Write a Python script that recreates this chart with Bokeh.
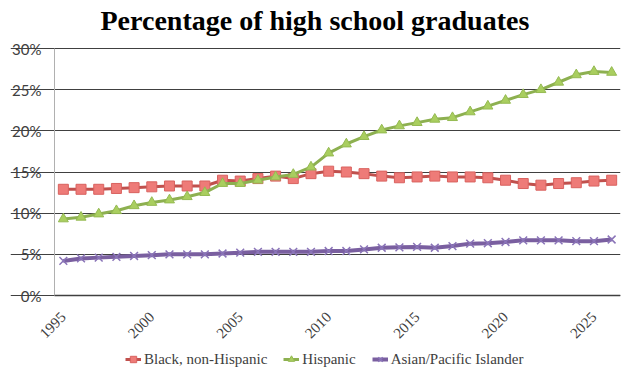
import math
from bokeh.plotting import figure
from bokeh.models import Range1d, FixedTicker, PrintfTickFormatter, Legend, LegendItem, Title
from bokeh.embed import file_html
from bokeh.resources import INLINE

years = list(range(1995, 2027))
black = [12.9, 12.9, 12.9, 13.0, 13.1, 13.2, 13.3, 13.3, 13.3, 14.0,
         13.9, 14.2, 14.5, 14.2, 14.8, 15.1, 15.0, 14.8, 14.5, 14.3,
         14.4, 14.5, 14.4, 14.4, 14.3, 14.0, 13.6, 13.4, 13.6, 13.7,
         13.9, 14.0]
hispanic = [9.3, 9.5, 9.9, 10.3, 10.9, 11.3, 11.6, 12.0, 12.5, 13.6,
            13.6, 14.0, 14.4, 14.7, 15.6, 17.3, 18.4, 19.3, 20.1, 20.6,
            21.0, 21.4, 21.6, 22.3, 23.0, 23.7, 24.4, 25.0, 25.9, 26.8,
            27.2, 27.1]
asian = [4.2, 4.5, 4.6, 4.7, 4.8, 4.9, 5.0, 5.0, 5.0, 5.1,
         5.2, 5.3, 5.3, 5.3, 5.3, 5.4, 5.4, 5.6, 5.8, 5.85,
         5.9, 5.8, 6.0, 6.3, 6.35, 6.5, 6.7, 6.7, 6.7, 6.6,
         6.6, 6.8]
series_names = ["Black, non-Hispanic", "Hispanic", "Asian/Pacific Islander"]
x_ticks = [1995, 2000, 2005, 2010, 2015, 2020, 2025]
y_ticks = [0, 5, 10, 15, 20, 25, 30]

# layout: data area 566x247 px; the frame extends left, above and below it so
# that axis labels and the legend can be drawn inside it.
plot_w, plot_h = 566, 247
left_pad, top_pad, bottom_pad = 44, 10, 85
x_lo, x_hi = years[0] - 0.5, years[-1] + 0.5
x_start = x_lo - left_pad * (x_hi - x_lo) / plot_w
y_top = 30
y_end = y_top + top_pad * y_top / plot_h
y_min = -bottom_pad * y_top / plot_h

p = figure(frame_width=plot_w + left_pad, frame_height=plot_h + top_pad + bottom_pad,
           output_backend="svg", toolbar_location=None,
           x_range=Range1d(x_start, x_hi), y_range=Range1d(y_min, y_end),
           min_border_left=10, min_border_right=4, min_border_top=38, min_border_bottom=0)

t = Title(text="Percentage of high school graduates", align="left",
          text_font="Liberation Serif", text_font_size="28px", text_font_style="bold",
          text_color="#000000", offset=90, standoff=5)
p.add_layout(t, "above")

p.outline_line_color = None
p.background_fill_color = "white"
p.border_fill_color = "white"

p.xgrid.grid_line_color = None
p.ygrid.grid_line_color = "#404040"
p.ygrid.grid_line_width = 1
p.ygrid.ticker = FixedTicker(ticks=y_ticks)
p.ygrid.bounds = (x_lo, x_hi)

p.yaxis.fixed_location = x_lo
p.yaxis.bounds = (0, y_top)
p.yaxis.ticker = FixedTicker(ticks=y_ticks)
p.yaxis.formatter = PrintfTickFormatter(format="%d%%")
p.yaxis.axis_line_color = "#b0b0b0"
p.yaxis.major_tick_line_color = None
p.yaxis.minor_tick_line_color = None
p.yaxis.major_label_text_font = "Lato"
p.yaxis.major_label_text_font_size = "15px"
p.yaxis.major_label_text_color = "#404040"
p.yaxis.major_label_standoff = 7

p.xaxis.fixed_location = 0
p.xaxis.bounds = (x_lo, x_hi)
p.xaxis.ticker = FixedTicker(ticks=x_ticks)
p.xaxis.axis_line_color = "#404040"
p.xaxis.axis_line_width = 1.5
p.xaxis.major_tick_line_color = None
p.xaxis.minor_tick_line_color = None
p.xaxis.major_label_orientation = math.pi / 4
p.xaxis.major_label_text_font = "Liberation Serif"
p.xaxis.major_label_text_font_size = "15px"
p.xaxis.major_label_text_color = "#404040"
p.xaxis.major_label_standoff = 13

r1 = p.line(years, black, line_color="#C0504D", line_width=3)
m1 = p.scatter(years, black, marker="square", size=10, fill_color="#EE7B78", line_color="#D9625F")
r2 = p.line(years, hispanic, line_color="#8DB050", line_width=3)
m2 = p.scatter(years, hispanic, marker="triangle", size=10, fill_color="#A9CE5F", line_color="#95BA52")
r3 = p.line(years, asian, line_color="#7A5FA0", line_width=4)
m3 = p.scatter(years, asian, marker="x", size=11, line_color="#8A74B8", line_width=1.5)

legend = Legend(items=[LegendItem(label=series_names[0], renderers=[r1, m1]),
                       LegendItem(label=series_names[1], renderers=[r2, m2]),
                       LegendItem(label=series_names[2], renderers=[r3, m3])],
                orientation="horizontal", location=(115, 11),
                label_text_font="Liberation Serif", label_text_font_size="15px",
                label_text_color="#404040", border_line_color=None, background_fill_alpha=0,
                glyph_width=16, spacing=16, label_standoff=3, padding=2, margin=0)
p.add_layout(legend, "center")

open("out.html", "w").write(file_html(p, INLINE))
